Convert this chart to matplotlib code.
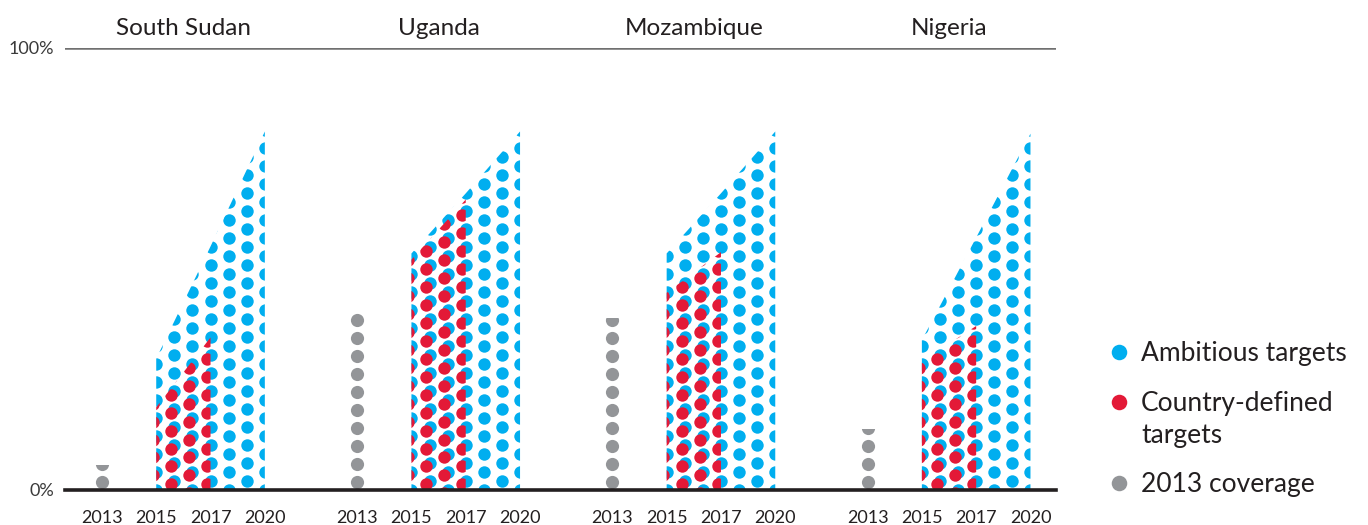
import numpy as np
import matplotlib.pyplot as plt

countries = ["South Sudan", "Uganda", "Mozambique", "Nigeria"]
years = ["2013", "2015", "2017", "2020"]

# coverage in 2013, %
coverage_2013 = [5.5, 40.0, 38.8, 13.6]
# ambitious targets for 2015, 2017, 2020, %
ambitious = [
    [29.6, 55.0, 81.0],
    [53.4, 67.0, 81.0],
    [53.4, 67.0, 81.0],
    [33.8, 57.0, 80.5],
]
# country-defined targets for 2015, 2017, %
country_defined = [
    [18.6, 34.4],
    [52.0, 65.6],
    [44.5, 53.7],
    [29.0, 37.0],
]

legend_labels = ["Ambitious targets", "Country-defined\ntargets", "2013 coverage"]

BLUE = "#00AEEF"
RED = "#E31937"
GREY = "#939598"
TEXT = "#231F20"

PANEL_STEP = 4.7    # distance between country groups, in category units
COL_STEP = 1 / 3    # horizontal dot spacing
ROW_STEP = 4.07     # vertical dot spacing, in %
DOT = 80            # marker area, pt^2

plt.rcParams['font.family'] = ['Lato', 'DejaVu Sans']


def dot_grid(x0, x1, top, dx=0.0, dy=0.0):
    # staggered grid: every other column shifted by half a row
    pts = []
    for k, cx in enumerate(np.arange(x0, x1 + 1e-9, COL_STEP)):
        start = ROW_STEP / 2 if k % 2 else 0.0
        for r in np.arange(start, top + ROW_STEP, ROW_STEP):
            pts.append((cx + dx, r + dy))
    return np.array(pts)


fig = plt.figure(figsize=(13.68, 5.25), dpi=100)
ax = fig.add_axes([65 / 1368, 35.5 / 525, 991 / 1368, 442 / 525])
ax.set_xlim(-0.68, 17.57)
ax.set_ylim(0, 100)

xticks, xlabels = [], []
for i, name in enumerate(countries):
    base = i * PANEL_STEP
    xs = base + np.arange(len(years))

    # ambitious targets: blue dot field clipped to the area
    area = ax.fill_between(xs[1:], ambitious[i], 0, facecolor='none', linewidth=0)
    pts = dot_grid(xs[1], xs[3], max(ambitious[i]))
    sc = ax.scatter(pts[:, 0], pts[:, 1], s=DOT, c=BLUE, linewidths=0, zorder=2)
    sc.set_clip_path(area.get_paths()[0], ax.transData)

    # country-defined targets: red dots offset down-left, on top
    area_r = ax.fill_between(xs[1:3], country_defined[i], 0, facecolor='none', linewidth=0)
    pts = dot_grid(xs[1], xs[2] + COL_STEP, max(country_defined[i]), dx=-0.06, dy=-0.9)
    sc = ax.scatter(pts[:, 0], pts[:, 1], s=DOT, c=RED, linewidths=0, zorder=3)
    sc.set_clip_path(area_r.get_paths()[0], ax.transData)

    # 2013 coverage: single grey column
    bar = ax.bar(xs[0], coverage_2013[i], width=0.4, color='none', linewidth=0)[0]
    rows = np.arange(1.7, coverage_2013[i] + ROW_STEP, ROW_STEP)
    sc = ax.scatter(np.full(len(rows), xs[0]), rows, s=90, c=GREY, linewidths=0, zorder=2)
    sc.set_clip_path(bar)

    ax.text(xs[1] + 0.5, 102.8, name, ha='center', va='baseline',
            fontsize=17.5, color=TEXT)
    xticks += list(xs)
    xlabels += years

ax.axhline(100, color='#707070', lw=1.8, zorder=1)
ax.axhline(0, color=TEXT, lw=2.6, zorder=5, clip_on=False)

ax.set_xticks(xticks, xlabels)
ax.set_yticks([0, 100], ['0%', '100%'])
ax.tick_params(axis='x', length=0, pad=15, labelsize=13, labelcolor=TEXT)
ax.tick_params(axis='y', length=0, pad=8, labelsize=13, labelcolor='#3a3a3a')
for s in ax.spines.values():
    s.set_visible(False)

# legend, laid out in figure pixels
leg = fig.add_axes([0, 0, 1, 1])
leg.set_xlim(0, 1368)
leg.set_ylim(525, 0)
leg.axis('off')
for label, color, y in zip(legend_labels, [BLUE, RED, GREY], [351.5, 401.5, 483]):
    leg.scatter(1119, y, s=125, c=color, linewidths=0)
    for j, line in enumerate(label.split('\n')):
        leg.text(1141, y + 9 + 32 * j, line, va='baseline', ha='left',
                 fontsize=19, color=TEXT)

fig.savefig('out.png', dpi=100)
